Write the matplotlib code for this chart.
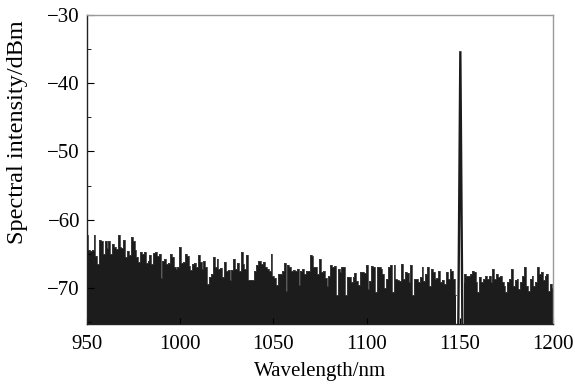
import numpy as np
import matplotlib
matplotlib.use("Agg")
import matplotlib.pyplot as plt
from matplotlib.ticker import MultipleLocator

plt.rcParams['font.family'] = ['Liberation Serif', 'DejaVu Serif']

# Noise floor (top of spectrum trace), 1 nm steps
noise_wl_a = list(range(950, 1149))
noise_db_a = [
    -62.3, -64.5, -64.6, -64.4, -62.2, -65.3, -66.5, -63.0, -63.2, -65.0,
    -63.1, -64.2, -63.2, -65.0, -63.5, -64.0, -64.3, -62.2, -64.0, -64.2,
    -63.0, -65.5, -64.6, -65.2, -62.6, -63.2, -64.5, -65.5, -66.2, -64.8,
    -65.0, -64.7, -66.4, -66.0, -65.2, -66.5, -64.9, -64.8, -65.4, -65.0,
    -68.5, -66.0, -65.8, -66.5, -66.4, -65.1, -65.5, -67.0, -67.2, -67.0,
    -64.0, -66.3, -66.2, -65.1, -65.3, -66.8, -67.4, -66.5, -66.3, -67.0,
    -65.2, -66.2, -67.2, -66.0, -67.0, -69.5, -68.4, -68.0, -65.5, -67.0,
    -65.8, -67.2, -67.1, -68.4, -66.2, -67.5, -67.4, -68.9, -67.4, -65.8,
    -67.2, -66.3, -67.6, -64.8, -66.5, -67.2, -65.2, -68.9, -68.9, -68.8,
    -67.5, -66.6, -66.1, -66.0, -66.5, -66.2, -67.0, -67.3, -67.5, -65.0,
    -68.2, -68.5, -69.6, -68.0, -68.0, -67.5, -66.3, -70.4, -66.7, -66.9,
    -67.5, -67.4, -67.5, -67.3, -69.6, -67.5, -67.3, -68.0, -67.5, -67.6,
    -65.2, -65.4, -67.0, -67.0, -68.0, -65.8, -67.7, -67.5, -68.5, -69.7,
    -68.2, -66.7, -67.0, -66.8, -71.0, -67.2, -67.7, -67.0, -67.0, -71.0,
    -68.4, -68.4, -69.2, -68.4, -67.8, -69.0, -69.6, -67.7, -67.7, -67.8,
    -66.7, -70.2, -69.0, -66.8, -66.9, -70.6, -67.0, -67.0, -67.3, -68.0,
    -70.0, -68.7, -67.0, -66.6, -70.6, -66.6, -68.7, -68.8, -69.0, -66.5,
    -68.7, -67.7, -67.8, -69.2, -66.7, -71.1, -68.7, -68.7, -69.2, -68.4,
    -67.0, -69.0, -68.0, -67.0, -69.7, -67.2, -67.7, -68.7, -68.6, -67.6,
    -69.2, -68.9, -69.5, -67.7, -68.7, -67.2, -67.5, -68.7, -71.1,
]
noise_wl_b = list(range(1152, 1201))
noise_db_b = [
    -69.2, -68.0, -68.2, -68.2, -68.0, -67.5, -67.7, -69.2, -70.6, -68.4,
    -69.2, -68.7, -68.2, -68.7, -68.2, -69.2, -67.2, -68.7, -68.0, -68.4,
    -68.2, -69.2, -69.7, -70.6, -69.2, -68.7, -67.2, -69.7, -68.9, -68.7,
    -70.2, -69.2, -68.2, -67.0, -69.7, -70.4, -68.7, -68.2, -69.7, -69.2,
    -67.0, -68.0, -67.7, -68.9, -68.2, -68.0, -70.4, -69.5, -70.0,
]

# Laser line
peak_wl = [1149.2, 1150.3, 1151.4]
peak_db = [-75.6, -35.3, -75.6]

floor_db = -75.6
dark = '#1c1c1c'

fig = plt.figure(figsize=(5.75, 3.9), dpi=100)
ax = fig.add_axes([0.1513, 0.1692, 0.9617 - 0.1513, 0.9615 - 0.1692])

for wl, db in ((noise_wl_a, noise_db_a), (noise_wl_b, noise_db_b)):
    ax.fill_between(wl, floor_db, db, step='mid', color=dark, linewidth=0)
    ax.step(wl, db, where='mid', color='#3a3a3a', linewidth=0.6)

ax.plot(peak_wl, peak_db, color=dark, linewidth=1.7, solid_joinstyle='miter')

ax.set_xlim(950, 1200)
ax.set_ylim(-75.3, -30)
ax.xaxis.set_major_locator(MultipleLocator(50))
ax.yaxis.set_major_locator(MultipleLocator(10))
ax.yaxis.set_minor_locator(MultipleLocator(5))
ax.tick_params(axis='both', which='both', direction='in', labelsize=15,
               top=False, right=False)
ax.tick_params(axis='y', which='major', length=5, pad=5)
ax.tick_params(axis='y', which='minor', length=3)
ax.tick_params(axis='x', which='major', length=4, pad=8)
ax.tick_params(axis='x', which='minor', length=0)

for s in ('top', 'right'):
    ax.spines[s].set_color('#9a9a9a')
    ax.spines[s].set_linewidth(1.0)
for s in ('left', 'bottom'):
    ax.spines[s].set_color('#222222')
    ax.spines[s].set_linewidth(1.0)

ax.set_xlabel('Wavelength/nm', fontsize=15, labelpad=6)
ax.set_ylabel('Spectral intensity/dBm', fontsize=17.5)
ax.yaxis.set_label_coords(-0.127, 0.62)

fig.savefig('out.png', dpi=100)
